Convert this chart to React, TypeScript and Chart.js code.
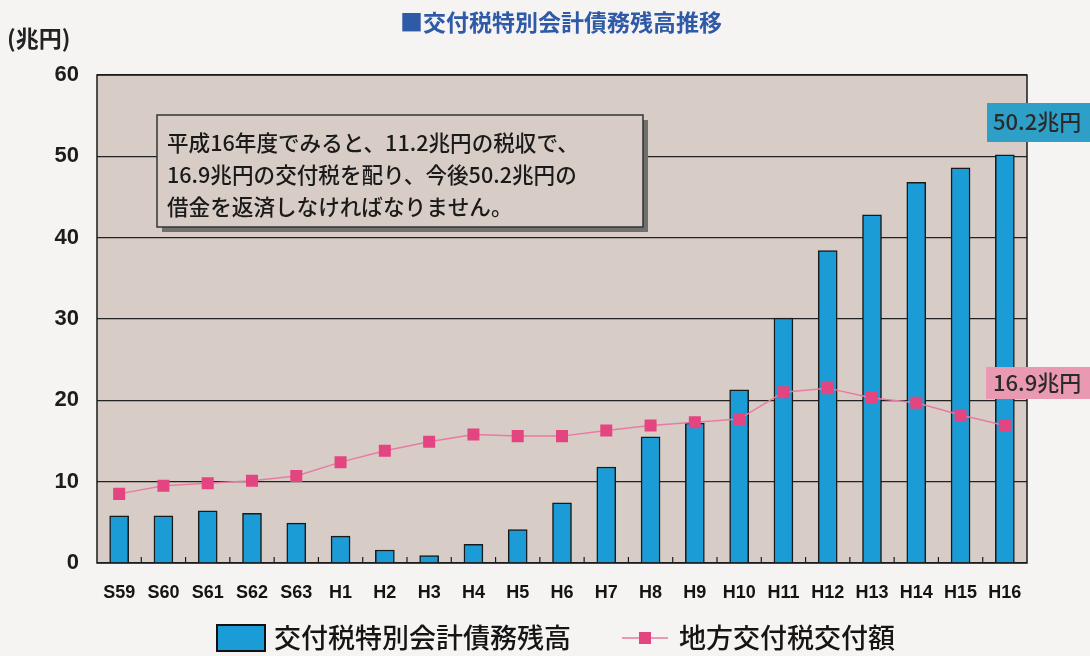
import React, { useEffect, useRef } from "react";
import { Chart, registerables } from "chart.js";

Chart.register(...registerables);

const categories = ["S59","S60","S61","S62","S63","H1","H2","H3","H4","H5","H6","H7","H8","H9","H10","H11","H12","H13","H14","H15","H16"];
const debtBalance = [5.8,5.8,6.4,6.1,4.9,3.3,1.6,0.9,2.3,4.1,7.4,11.8,15.5,17.2,21.3,30.1,38.4,42.8,46.8,48.6,50.2];
const grantAmount = [8.5,9.5,9.8,10.1,10.7,12.4,13.8,14.9,15.8,15.6,15.6,16.3,16.9,17.3,17.7,21.0,21.5,20.3,19.7,18.2,16.9];
const yTicks = [0,10,20,30,40,50,60];
const barLabel = "交付税特別会計債務残高";
const lineLabel = "地方交付税交付額";
const titleText = "■交付税特別会計債務残高推移";
const unitText = "(兆円)";
const noteLines = ["平成16年度でみると、11.2兆円の税収で、","16.9兆円の交付税を配り、今後50.2兆円の","借金を返済しなければなりません。"];
const barEndLabel = "50.2兆円";
const lineEndLabel = "16.9兆円";

const JP = '"Noto Sans CJK JP", "Noto Sans", sans-serif';
const NUM = '"Liberation Sans", Arial, sans-serif';
const BAR_COLOR = "#1c9cd6";
const LINE_COLOR = "#e97aa4";
const POINT_COLOR = "#e2457f";
const PLOT_BG = "#d8cdc6";
const PAGE_BG = "#f6f4f2";

const decor = {
  id: "decor",
  beforeDraw(chart: any) {
    const { ctx, chartArea: a, width, height } = chart;
    ctx.save();
    ctx.fillStyle = PAGE_BG;
    ctx.fillRect(0, 0, width, height);
    ctx.fillStyle = PLOT_BG;
    ctx.fillRect(a.left, a.top, a.right - a.left, a.bottom - a.top);
    ctx.restore();
  },
  afterDatasetsDraw(chart: any) {
    const { ctx, chartArea: a } = chart;
    const xs = chart.scales.x;
    ctx.save();
    // plot border
    ctx.strokeStyle = "#1a1a1a";
    ctx.lineWidth = 1.5;
    ctx.strokeRect(a.left, a.top, a.right - a.left, a.bottom - a.top);
    // small ticks at category boundaries
    ctx.lineWidth = 1.2;
    for (let i = 1; i < categories.length; i++) {
      const x = (xs.getPixelForValue(i - 1) + xs.getPixelForValue(i)) / 2;
      ctx.beginPath();
      ctx.moveTo(x, a.bottom);
      ctx.lineTo(x, a.bottom - 6);
      ctx.stroke();
    }
    // annotation box
    const bx = 157, by = 115, bw = 486, bh = 112;
    ctx.fillStyle = "#72706e";
    ctx.fillRect(bx + 5, by + 5, bw, bh);
    ctx.fillStyle = PLOT_BG;
    ctx.fillRect(bx, by, bw, bh);
    ctx.strokeStyle = "#333";
    ctx.lineWidth = 1.5;
    ctx.strokeRect(bx, by, bw, bh);
    ctx.fillStyle = "#1a1a1a";
    ctx.font = `500 21.6px ${JP}`;
    ctx.textBaseline = "middle";
    ctx.textAlign = "left";
    noteLines.forEach((t, i) => ctx.fillText(t, 167, 143 + i * 32));
    // end labels
    ctx.fillStyle = "#2e9fc6";
    ctx.fillRect(987, 103, 103, 39);
    ctx.fillStyle = "#2a2a2a";
    ctx.font = `500 22px ${JP}`;
    ctx.fillText(barEndLabel, 993, 122);
    ctx.fillStyle = "#e99ab2";
    ctx.fillRect(986, 367, 104, 32);
    ctx.fillStyle = "#2a2a2a";
    ctx.fillText(lineEndLabel, 993, 383);
    // title
    ctx.fillStyle = "#2f5aa8";
    ctx.font = `bold 23px ${JP}`;
    ctx.textAlign = "center";
    ctx.fillText(titleText, 561, 22);
    // unit
    ctx.fillStyle = "#222";
    ctx.font = `bold 23px ${JP}`;
    ctx.textAlign = "left";
    ctx.fillText(unitText, 7, 38);
    // legend
    const ly = 638;
    ctx.fillStyle = BAR_COLOR;
    ctx.fillRect(217, 625, 48, 26);
    ctx.strokeStyle = "#111";
    ctx.lineWidth = 2;
    ctx.strokeRect(217, 625, 48, 26);
    ctx.fillStyle = "#151515";
    ctx.font = `500 27px ${JP}`;
    ctx.fillText(chart.data.datasets[1].label, 274, ly);
    ctx.strokeStyle = LINE_COLOR;
    ctx.lineWidth = 1.5;
    ctx.beginPath();
    ctx.moveTo(622, ly);
    ctx.lineTo(668, ly);
    ctx.stroke();
    ctx.fillStyle = POINT_COLOR;
    ctx.fillRect(639, ly - 6, 12, 12);
    ctx.fillStyle = "#151515";
    ctx.fillText(chart.data.datasets[0].label, 679, ly);
    ctx.restore();
  },
};

export default function App() {
  const ref = useRef<HTMLCanvasElement>(null);
  useEffect(() => {
    if (!ref.current) return;
    const chart = new Chart(ref.current, {
      type: "bar",
      data: {
        labels: categories,
        datasets: [
          {
            type: "line",
            label: lineLabel,
            data: grantAmount,
            borderColor: LINE_COLOR,
            borderWidth: 1.5,
            pointStyle: "rect",
            pointRadius: 8.5,
            pointBackgroundColor: POINT_COLOR,
            pointBorderWidth: 0,
            tension: 0,
            order: 0,
          } as any,
          {
            type: "bar",
            label: barLabel,
            data: debtBalance,
            backgroundColor: BAR_COLOR,
            borderColor: "#1a1a1a",
            borderWidth: 1.5,
            borderSkipped: "bottom",
            barThickness: 19,
            order: 1,
          } as any,
        ],
      },
      options: {
        responsive: false,
        devicePixelRatio: 1,
        animation: false,
        layout: { padding: { left: 0, top: 75, right: 63, bottom: 0 } },
        plugins: { legend: { display: false }, title: { display: false }, tooltip: { enabled: false } },
        scales: {
          x: {
            grid: { display: false, drawTicks: false },
            border: { display: false },
            ticks: { font: { family: NUM, size: 18, weight: "bold" }, color: "#141414", padding: 19, maxRotation: 0, autoSkip: false },
            afterFit: (s: any) => { s.height = 93; },
          },
          y: {
            min: 0,
            max: 60,
            afterBuildTicks: (s: any) => { s.ticks = yTicks.map((v) => ({ value: v })); },
            grid: { color: "#222", lineWidth: 1.2, drawTicks: false },
            border: { display: false },
            ticks: { font: { family: NUM, size: 22, weight: "bold" }, color: "#1c1c1c", padding: 18 },
            afterFit: (s: any) => { s.width = 97; },
          },
        },
      },
      plugins: [decor],
    });
    return () => chart.destroy();
  }, []);
  return (
    <div style={{ position: "fixed", left: 0, top: 0, width: 1090, height: 656 }}>
      <canvas ref={ref} width={1090} height={656} />
    </div>
  );
}
